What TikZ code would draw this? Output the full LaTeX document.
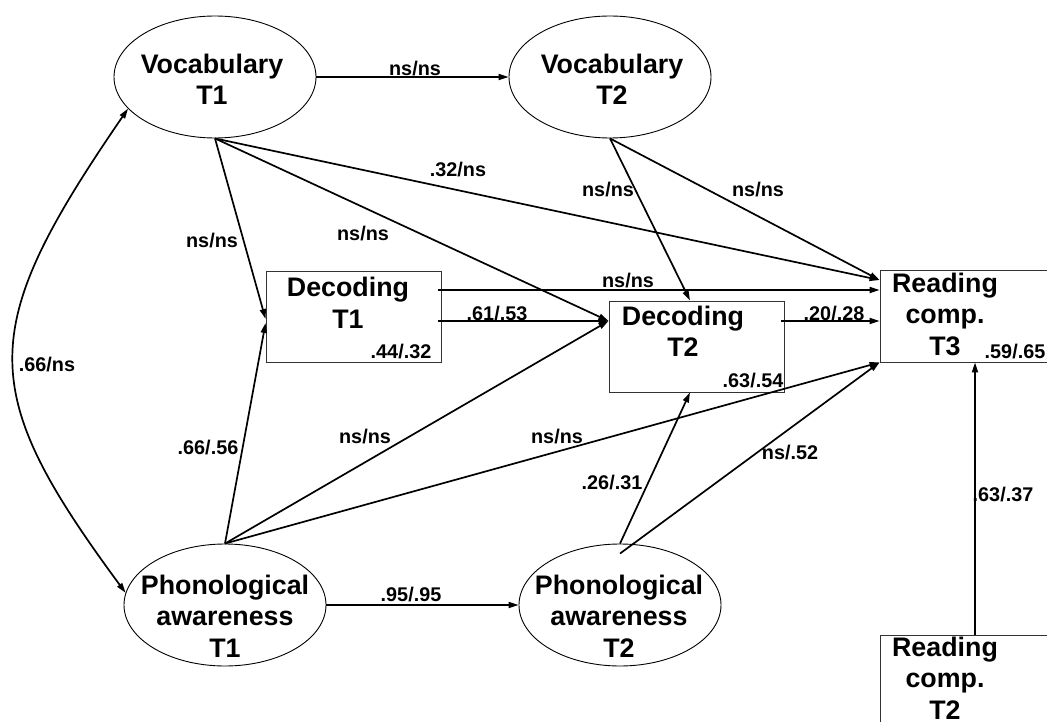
\documentclass[tikz,border=0pt]{standalone}
\usepackage{fontspec}
\setmainfont{Liberation Sans}
\usetikzlibrary{arrows.meta,shapes.geometric,calc}

\begin{document}
\begin{tikzpicture}[x=1pt,y=-1pt,
  latent/.style={draw, ellipse, line width=0.9pt, minimum width=202pt, minimum height=122pt, inner sep=0pt},
  observed/.style={draw=black!80, rectangle, line width=0.9pt, inner sep=0pt},
  nodetext/.style={font=\fontsize{26.8}{31.5}\selectfont\bfseries, align=center, inner sep=0pt},
  coef/.style={font=\fontsize{19.8}{22}\selectfont\bfseries, inner sep=0pt},
  link/.style={line width=1.7pt, -{Triangle[length=10pt,width=6pt]}},
  bothlink/.style={line width=1.7pt, {Triangle[length=10pt,width=6pt]}-{Triangle[length=10pt,width=6pt]}}
]
\useasboundingbox (0,0) rectangle (1047,722);

% latent variables
\node[latent] (vt1) at (215,77) {};
\node[latent] (vt2) at (610,77) {};
\node[latent] (pt1) at (225,605) {};
\node[latent] (pt2) at (620,605) {};

% observed variables
\node[observed, minimum width=175pt, minimum height=91pt] (dec1) at (353.5,316.5) {};
\node[observed, minimum width=175pt, minimum height=91pt] (dec2) at (696.5,346.5) {};
\node[observed, minimum width=190pt, minimum height=92pt] (rc3) at (975,316) {};
\node[observed, minimum width=190pt, minimum height=120pt] (rc2) at (975,695) {};

% variable names
\node[nodetext] (vt1t) at (212,79.5) {Vocabulary\\T1};
\node[nodetext] (vt2t) at (612,79.5) {Vocabulary\\T2};
\node[nodetext] (pt1t) at (225,616) {Phonological\\awareness\\T1};
\node[nodetext] (pt2t) at (619,616) {Phonological\\awareness\\T2};
\node[nodetext] (dec1t) at (348,303) {Decoding\\T1};
\node[nodetext] (dec2t) at (683,331.5) {Decoding\\T2};
\node[nodetext] (rc3t) at (945,314) {Reading\\comp.\\T3};
\node[nodetext] (rc2t) at (945,678) {Reading\\comp.\\T2};

% paths
\draw[link] (vt1.east) -- (vt2.west);
\draw[link] (pt1.east) -- (pt2.west);
\draw[link] (vt1.south) -- ($(dec1.west)+(0,2.5)$);
\draw[link] (vt1.south) -- ($(dec2.west)+(0,-25.5)$);
\draw[link] (vt1.south) -- ($(rc3.west)+(0,-36)$);
\draw[link] (vt2.south) -- ($(dec2.north)+(-6.5,0)$);
\draw[link] (vt2.south) -- ($(rc3.west)+(0,-36)$);
\draw[link] ($(dec1.east)+(-3,-26.5)$) -- ($(rc3.west)+(0,-26)$);
\draw[link] ($(dec1.east)+(-3,4.5)$) -- ($(dec2.west)+(0,-25.5)$);
\draw[link] ($(dec2.east)+(-3,-25.5)$) -- ($(rc3.west)+(0,5)$);
\draw[link] (pt1.north) -- ($(dec1.west)+(0,6.5)$);
\draw[link] (pt1.north) -- ($(dec2.west)+(0,-25.5)$);
\draw[link] (pt1.north) -- (rc3.south west);
\draw[link] (pt2.north) -- ($(dec2.south)+(-6.5,0)$);
\draw[link] ($(pt2.north)+(0,10)$) -- (rc3.south west);
\draw[link] (rc2.north) -- (rc3.south);
\draw[bothlink] (vt1.200) .. controls (-24,330) and (-24,390) .. (pt1.173);

% path coefficients
\node[coef] (c01) at (415,69) {ns/ns};
\node[coef] (c02) at (458,170) {.32/ns};
\node[coef] (c03) at (212,241) {ns/ns};
\node[coef] (c04) at (363,234) {ns/ns};
\node[coef] (c05) at (608,190) {ns/ns};
\node[coef] (c06) at (758,190) {ns/ns};
\node[coef] (c07) at (628,281) {ns/ns};
\node[coef] (c08) at (497,314) {.61/.53};
\node[coef] (c09) at (834,314) {.20/.28};
\node[coef] (c10) at (401,352) {.44/.32};
\node[coef] (c11) at (753,381) {.63/.54};
\node[coef] (c12) at (1015,352) {.59/.65};
\node[coef] (c13) at (47,365) {.66/ns};
\node[coef] (c14) at (208,448) {.66/.56};
\node[coef] (c15) at (365,437) {ns/ns};
\node[coef] (c16) at (557,437) {ns/ns};
\node[coef] (c17) at (790,453) {ns/.52};
\node[coef] (c18) at (612,483) {.26/.31};
\node[coef] (c19) at (1003,495) {.63/.37};
\node[coef] (c20) at (411,595) {.95/.95};
\end{tikzpicture}
\end{document}
